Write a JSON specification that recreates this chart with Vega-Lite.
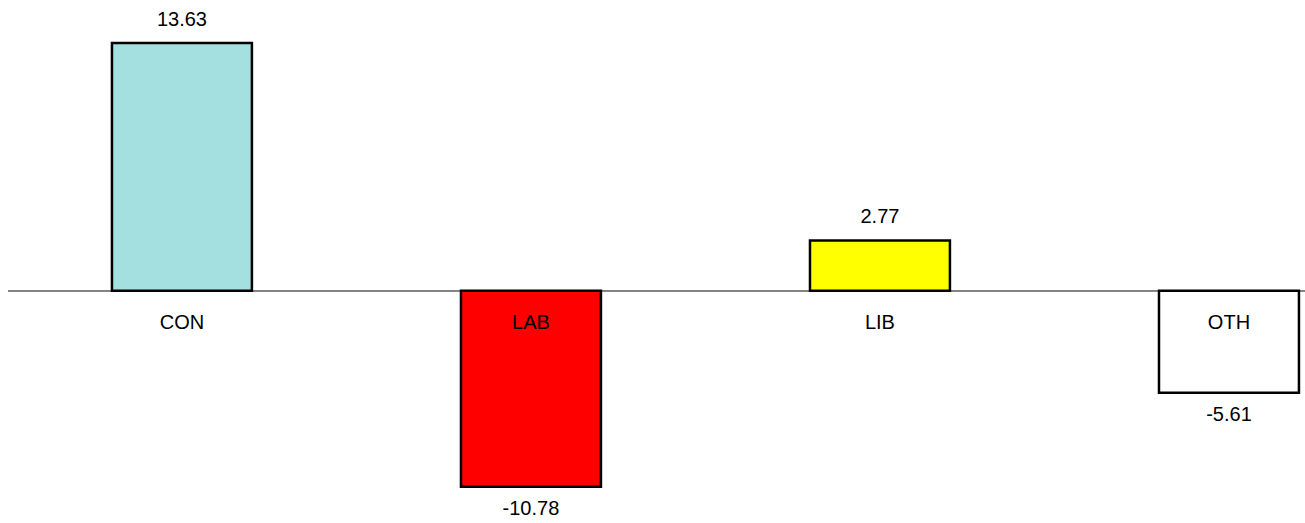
{
  "$schema": "https://vega.github.io/schema/vega-lite/v6.json",
  "autosize": {"type": "none"},
  "padding": {"left": 8, "top": 18, "right": 0, "bottom": 14},
  "width": 1297,
  "height": 491,
  "background": "white",
  "config": {
    "view": {"stroke": null},
    "text": {"font": "Liberation Sans", "fontSize": 20, "color": "black"},
    "locale": {"number": {"decimal": ".", "thousands": ",", "grouping": [3], "currency": ["$", ""], "minus": "-"}}
  },
  "data": {"values": [
    {"party": "CON", "value": 13.63, "color": "#a4e0e0"},
    {"party": "LAB", "value": -10.78, "color": "#ff0000"},
    {"party": "LIB", "value": 2.77, "color": "#ffff00"},
    {"party": "OTH", "value": -5.61, "color": "#ffffff"}
  ]},
  "encoding": {
    "x": {"field": "party", "type": "nominal", "sort": null, "axis": null,
          "scale": {"paddingInner": 0.599, "paddingOuter": 0.1576, "align": 0.945}}
  },
  "layer": [
    {
      "mark": {"type": "rule", "color": "#808080", "strokeWidth": 1.3},
      "encoding": {"x": null, "y": {"datum": 0, "type": "quantitative", "scale": {"domain": [-12, 15], "nice": false, "zero": false}, "axis": null}}
    },
    {
      "mark": {"type": "bar", "stroke": "black", "strokeWidth": 2.5},
      "encoding": {
        "y": {"field": "value", "type": "quantitative", "axis": null},
        "y2": {"datum": 0},
        "fill": {"field": "color", "type": "nominal", "scale": null}
      }
    },
    {
      "mark": {"type": "text", "baseline": "middle", "dy": 32},
      "encoding": {
        "y": {"datum": 0, "type": "quantitative"},
        "text": {"field": "party"}
      }
    },
    {
      "transform": [{"filter": "datum.value >= 0"}],
      "mark": {"type": "text", "baseline": "middle", "dy": -23},
      "encoding": {
        "y": {"field": "value", "type": "quantitative"},
        "text": {"field": "value", "type": "quantitative", "format": ".2f"}
      }
    },
    {
      "transform": [{"filter": "datum.value < 0"}],
      "mark": {"type": "text", "baseline": "middle", "dy": 22},
      "encoding": {
        "y": {"field": "value", "type": "quantitative"},
        "text": {"field": "value", "type": "quantitative", "format": ".2f"}
      }
    }
  ]
}
